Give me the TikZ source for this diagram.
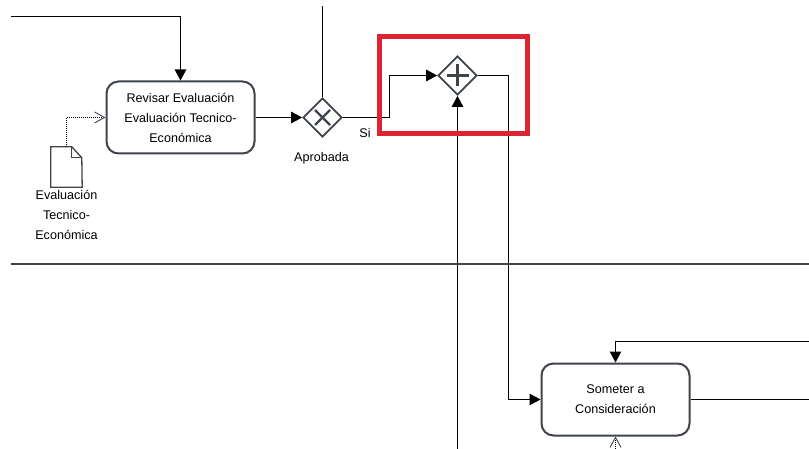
\documentclass[tikz,border=0pt]{standalone}
\usepackage{fontspec}
\setmainfont{Liberation Sans}
\usepackage{xcolor}
\usetikzlibrary{arrows.meta, positioning, shapes.geometric, calc}
\definecolor{edgegray}{HTML}{3E444A}
\definecolor{markred}{HTML}{DC2433}

\begin{document}
\begin{tikzpicture}[x=1pt, y=-1pt, every node/.style={font=\fontsize{12.6}{20}\selectfont, align=center},
  task/.style={draw=edgegray, line width=2pt, rounded corners=12pt, fill=white, minimum width=148pt, minimum height=72pt, inner sep=0pt},
  gate/.style={draw=edgegray, line width=1.7pt, diamond, aspect=1, fill=white, minimum width=39pt, minimum height=39pt, inner sep=0pt},
  gatemark/.style={draw=edgegray, line width=2.2pt},
  flow/.style={draw=black, line width=1.1pt, -{Triangle[length=11pt, width=11.5pt]}},
  plainflow/.style={draw=black, line width=1.1pt},
  assoc/.style={draw=black, line width=1pt, densely dotted, -{Straight Barb[length=10pt, width=11pt, color=edgegray, line width=0.9pt]}}]
  \useasboundingbox (0,0) rectangle (809,449);
  \node[task] (revisar) at (180.5,117.5) {Revisar Evaluación\\Evaluación Tecnico-\\Económica};
  \node[task] (someter) at (615.5,399.5) {Someter a\\Consideración};
  \node[gate] (xorgate) at (322.5,117.5) {};
  \node[gate] (andgate) at (457.5,75.5) {};
  \node[minimum width=31pt, minimum height=40pt, inner sep=0pt] (doc) at (66.5,167) {};
  \node[below=3pt of doc, inner sep=0pt] (doclabel) {Evaluación\\Tecnico-\\Económica};
  \node (aprobada) at (321.5,158) {Aprobada};
  \node (si) at (365,133) {Si};
  % free ends at the picture border
  \coordinate (topin) at (11,16.5);
  \coordinate (topup) at (322.5,6);
  \coordinate (bottomin) at (457.5,449);
  \coordinate (bottomdoc) at (615.5,449);
  \coordinate (rightin) at (809,341.5);
  \coordinate (rightout) at (809,399.5);
  \coordinate (laneleft) at (11,264);
  \coordinate (laneright) at (809,264);
  % document and gateway marks
  \draw[draw=edgegray, line width=1.3pt, fill=white] (doc.south west) -- (doc.north west) -- ++(21,0) -- ++(10,11) -- (doc.south east) -- cycle;
  \draw[draw=edgegray, line width=1.3pt] ($(doc.north west)+(21,0)$) -- ++(0,11) -- ++(10,0);
  \draw[gatemark] ($(xorgate)+(-7.5,-7.5)$) -- ($(xorgate)+(7.5,7.5)$);
  \draw[gatemark] ($(xorgate)+(-7.5,7.5)$) -- ($(xorgate)+(7.5,-7.5)$);
  \draw[gatemark] ($(andgate)+(-11,0)$) -- ($(andgate)+(11,0)$);
  \draw[gatemark] ($(andgate)+(0,-11)$) -- ($(andgate)+(0,11)$);
  % connectors
  \draw[flow] (topin) -| (revisar.north);
  \draw[flow] (revisar.east) -- (xorgate.west);
  \draw[plainflow] (topup) -- (xorgate.north);
  \draw[flow] (xorgate.east) -- ++(46.5,0) |- (andgate.west);
  \draw[flow] (andgate.east) -- ++(31,0) |- (someter.west);
  \draw[flow] (bottomin) -- (andgate.south);
  \draw[flow] (rightin) -| (someter.north);
  \draw[plainflow] (someter.east) -- (rightout);
  \draw[assoc] (doc.north) |- (revisar.west);
  \draw[assoc] (bottomdoc) -- (someter.south);
  \draw[draw=edgegray, line width=1.6pt] (laneleft) -- (laneright);
  \draw[draw=markred, line width=4.5pt] (379.5,36.5) rectangle (527.5,133.5);
\end{tikzpicture}
\end{document}
